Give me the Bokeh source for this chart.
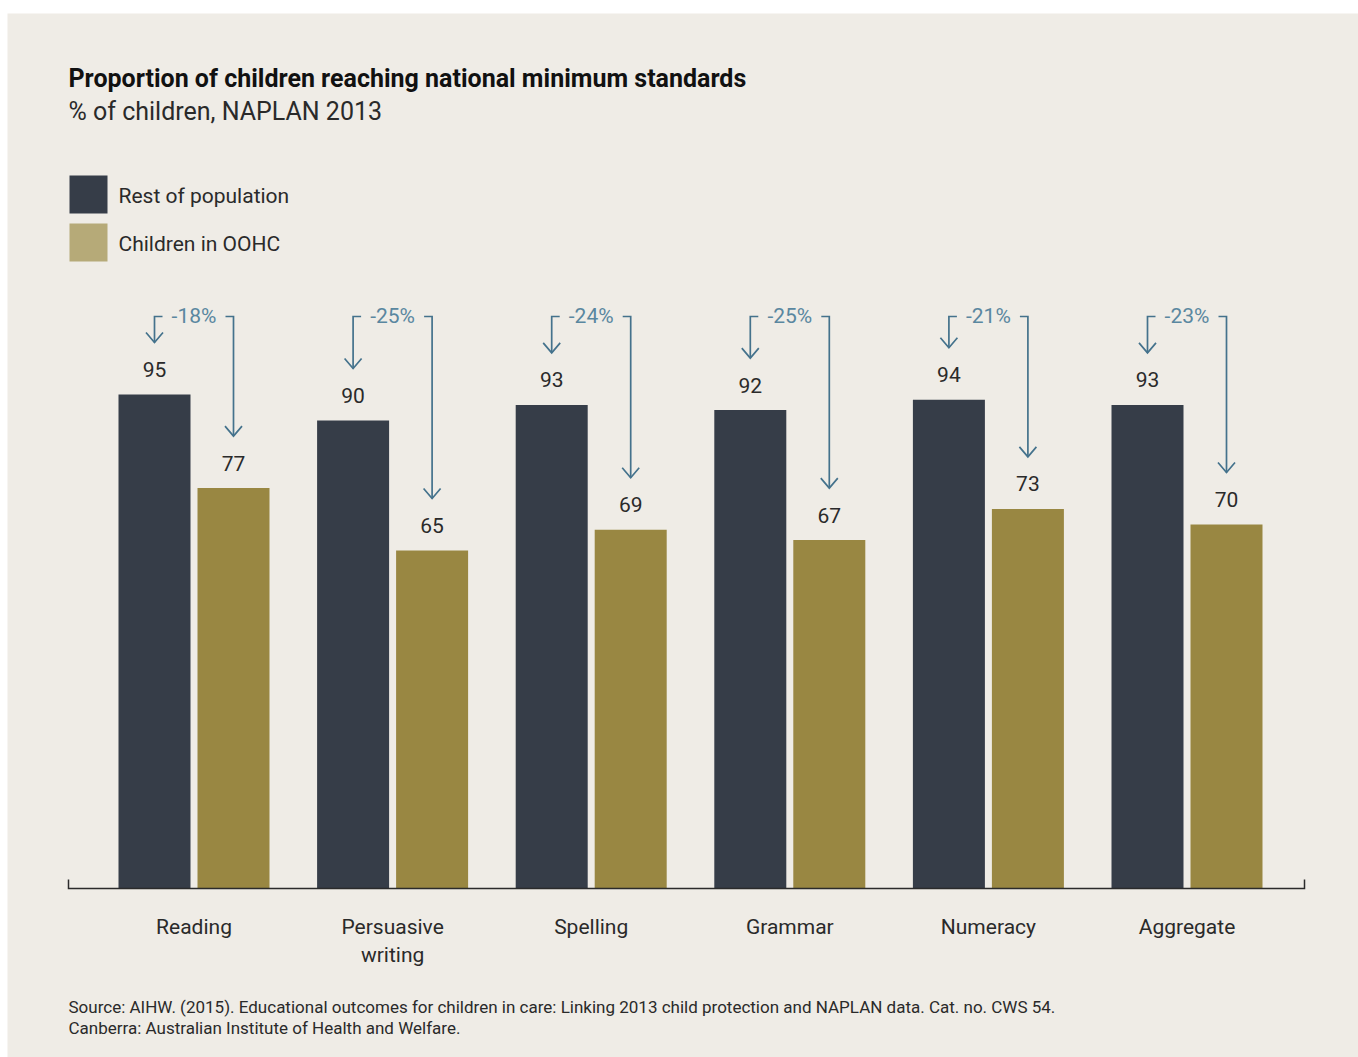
from bokeh.plotting import figure
from bokeh.models import Range1d
from bokeh.core.properties import value
from bokeh.embed import file_html
from bokeh.resources import INLINE

# ---------------- data ----------------
categories = ["Reading", "Persuasive\nwriting", "Spelling", "Grammar", "Numeracy", "Aggregate"]
rest_of_population = [95, 90, 93, 92, 94, 93]
children_in_oohc = [77, 65, 69, 67, 73, 70]
gap_labels = ["-18%", "-25%", "-24%", "-25%", "-21%", "-23%"]
series_names = ["Rest of population", "Children in OOHC"]
title_text = "Proportion of children reaching national minimum standards"
subtitle_text = "% of children, NAPLAN 2013"
source_lines = [
    "Source: AIHW. (2015). Educational outcomes for children in care: Linking 2013 child protection and NAPLAN data. Cat. no. CWS 54.",
    "Canberra: Australian Institute of Health and Welfare.",
]

# ---------------- layout ----------------
FIG_W, FIG_H = 1358, 1057
LEFT_PAD, TOP_PAD = 7, 13
W, H = FIG_W - LEFT_PAD, FIG_H - TOP_PAD   # frame size (px)
PAGE_X0, PAGE_Y0 = LEFT_PAD, TOP_PAD
GROUP_PX = 198.6           # px per category
X0_PAGE = 193.5            # page px of first group centre
Y_PX = 5.2                 # px per percentage point
BASE_PAGE = 888            # page px of zero line
TS = -8                    # text vertical correction (px)

x_start = -(X0_PAGE - PAGE_X0) / GROUP_PX
x_end = x_start + W / GROUP_PX
y_end = (BASE_PAGE - PAGE_Y0) / Y_PX
y_start = y_end - H / Y_PX


def gx(page_x):
    return x_start + (page_x - PAGE_X0) / GROUP_PX


def gy(page_y):
    return y_end - (page_y - PAGE_Y0) / Y_PX


BG = "#efece6"
DARK = "#363d48"
GOLD = "#998742"
GOLD_LEG = "#b6aa78"
ARROW = "#44728c"
ARROW_TXT = "#5a87a0"
TXT = "#2a2a2a"
FONT = value("Roboto")

p = figure(width=FIG_W, height=FIG_H, output_backend="svg", toolbar_location=None,
           x_range=Range1d(x_start, x_end), y_range=Range1d(y_start, y_end),
           x_axis_location=None, y_axis_location=None, title=None,
           min_border_left=LEFT_PAD, min_border_right=0, min_border_bottom=0, min_border_top=TOP_PAD)
p.background_fill_color = BG
p.border_fill_color = "white"
p.outline_line_color = None
p.xgrid.visible = False
p.ygrid.visible = False

n = len(categories)
idx = list(range(n))
OFF = 39.5 / GROUP_PX
BW = 72 / GROUP_PX

x_rest = [i - OFF for i in idx]
x_oohc = [i + OFF for i in idx]

p.vbar(x=x_rest, top=rest_of_population, bottom=0, width=BW, fill_color=DARK, line_color=None)
p.vbar(x=x_oohc, top=children_in_oohc, bottom=0, width=BW, fill_color=GOLD, line_color=None)

# value labels
p.text(x=x_rest, y=rest_of_population, text=[str(v) for v in rest_of_population],
       text_align="center", text_baseline="alphabetic", y_offset=-17 + TS,
       text_font=FONT, text_font_size="21px", text_color=TXT)
p.text(x=x_oohc, y=children_in_oohc, text=[str(v) for v in children_in_oohc],
       text_align="center", text_baseline="alphabetic", y_offset=-17 + TS,
       text_font=FONT, text_font_size="21px", text_color=TXT)

# difference brackets with arrows
Y_TOP = 110
GAP = 31.5 / GROUP_PX
TIP = 10
HW = 8.5 / GROUP_PX
HL = 10 / Y_PX
xs, ys = [], []
for i in idx:
    xl, xr = x_rest[i], x_oohc[i]
    tl, tr = rest_of_population[i] + TIP, children_in_oohc[i] + TIP
    xs.append([i - GAP, xl, xl]); ys.append([Y_TOP, Y_TOP, tl])
    xs.append([i + GAP, xr, xr]); ys.append([Y_TOP, Y_TOP, tr])
    xs.append([xl - HW, xl, xl + HW]); ys.append([tl + HL, tl, tl + HL])
    xs.append([xr - HW, xr, xr + HW]); ys.append([tr + HL, tr, tr + HL])
p.multi_line(xs=xs, ys=ys, line_color=ARROW, line_width=1.7, line_join="miter", line_cap="butt")
p.text(x=idx, y=[Y_TOP] * n, text=gap_labels, text_align="center", text_baseline="alphabetic",
       y_offset=7.5 + TS, text_font=FONT, text_font_size="21px", text_color=ARROW_TXT)

# category labels
lx, ly, lt, lo = [], [], [], []
for i, c in enumerate(categories):
    for k, line in enumerate(c.split("\n")):
        lx.append(i); ly.append(0); lt.append(line); lo.append(46 + 28 * k + TS)
p.text(x=lx, y=ly, text=lt, y_offset=lo, text_align="center", text_baseline="alphabetic",
       text_font=FONT, text_font_size="21px", text_color=TXT)

# baseline axis with end ticks
ax_l, ax_r = gx(68), gx(1304)
tick_h = 9 / Y_PX
p.multi_line(xs=[[ax_l, ax_l, ax_r, ax_r]], ys=[[tick_h, 0, 0, tick_h]],
             line_color="#2b2b2b", line_width=1.5, line_join="miter")

# title & subtitle
p.text(x=[gx(68)], y=[gy(86)], text=[title_text], text_baseline="alphabetic", y_offset=TS,
       text_font=FONT, text_font_size="25px", text_font_style="bold", text_color="#111111")
p.text(x=[gx(68)], y=[gy(119)], text=[subtitle_text], text_baseline="alphabetic", y_offset=TS,
       text_font=FONT, text_font_size="25px", text_color=TXT)

# legend
leg_colors = [DARK, GOLD_LEG]
leg_tops = [175, 223]
for name, col, t in zip(series_names, leg_colors, leg_tops):
    p.quad(left=[gx(69)], right=[gx(107)], top=[gy(t)], bottom=[gy(t + 38)],
           fill_color=col, line_color=None)
    p.text(x=[gx(118)], y=[gy(t + 28)], text=[name], text_baseline="alphabetic", y_offset=TS,
           text_font=FONT, text_font_size="21px", text_color=TXT)

# source
for k, line in enumerate(source_lines):
    p.text(x=[gx(68)], y=[gy(1013 + 21 * k)], text=[line], text_baseline="alphabetic", y_offset=TS + 1,
           text_font=FONT, text_font_size="17px", text_color=TXT)

open("out.html", "w").write(file_html(p, INLINE))
